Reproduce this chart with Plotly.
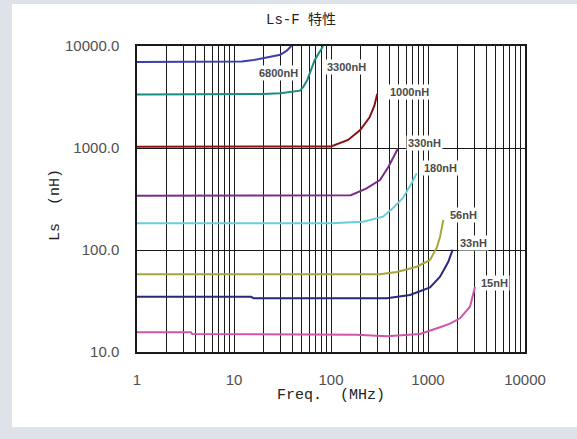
import math
import plotly.graph_objects as go

# ---- data ----
labels = ["6800nH", "3300nH", "1000nH", "330nH", "180nH", "56nH", "33nH", "15nH"]

f_6800 = [1, 5, 10, 12, 16, 20, 25, 30, 35, 39]
L_6800 = [6950, 6950, 6980, 7050, 7300, 7600, 7900, 8200, 9000, 10000]

f_3300 = [1, 5, 10, 20, 30, 40, 48, 52, 57, 68, 83]
L_3300 = [3350, 3350, 3350, 3380, 3450, 3550, 3650, 4000, 4650, 7300, 10000]

f_1000 = [1, 10, 50, 100, 150, 200, 250, 280, 300]
L_1000 = [1030, 1030, 1030, 1035, 1200, 1500, 2000, 2600, 3400]

f_330 = [1, 10, 100, 160, 230, 320, 390, 460, 490]
L_330 = [340, 340, 340, 345, 400, 485, 650, 890, 990]

f_180 = [1, 10, 100, 214, 344, 436, 552, 679, 765]
L_180 = [183, 183, 183, 189, 212, 258, 324, 454, 565]

f_56 = [1, 10, 100, 320, 476, 765, 1049, 1230, 1331, 1439]
L_56 = [58, 58, 58, 58, 61, 68.6, 80, 105, 135, 197]

f_33 = [1, 15, 16, 375, 652, 1049, 1331, 1619, 1798]
L_33 = [34.8, 34.8, 33.6, 33.6, 36.2, 43, 54.7, 76.7, 101]

f_15 = [1, 3.6, 3.7, 32, 184, 375, 827, 1331, 1686, 2138, 2710, 3052]
L_15 = [15.6, 15.6, 15.0, 15.0, 14.8, 14.3, 15.0, 17.5, 19, 21.4, 27.8, 43.6]

x_tick_labels = ["1", "10", "100", "1000", "10000"]
y_tick_labels = ["10.0", "100.0", "1000.0", "10000.0"]

# label anchor positions (data coords)
label_f = [29, 143, 650, 910, 1360, 2300, 2910, 4900]
label_L = [5430, 6220, 3540, 1120, 637, 220, 117, 47.4]

colors = ["#3b3fae", "#1b8c80", "#8a1212", "#7a2c8c", "#68cfd8", "#a6a63a", "#28287c", "#d055a6"]

series = [(f_6800, L_6800), (f_3300, L_3300), (f_1000, L_1000), (f_330, L_330),
          (f_180, L_180), (f_56, L_56), (f_33, L_33), (f_15, L_15)]

fig = go.Figure()
for (fx, ly), name, c in zip(series, labels, colors):
    fig.add_trace(go.Scatter(x=fx, y=ly, mode="lines", name=name,
                             line=dict(color=c, width=2), showlegend=False))

for name, fx, ly in zip(labels, label_f, label_L):
    fig.add_annotation(x=math.log10(fx), y=math.log10(ly),
                       text="<b>%s</b>" % name, showarrow=False, bgcolor="white",
                       xanchor="center", yanchor="middle",
                       font=dict(family="Liberation Sans, Arial", size=11, color="#4a4a4a"),
                       borderpad=1)

# x tick positions: every 1..9 multiple per decade
decades = [1, 10, 100, 1000, 10000]
xt_vals = []
for k in range(4):
    for m in range(1, 10):
        xt_vals.append(m * 10 ** k)
xt_vals.append(10000)
xt_text = [x_tick_labels[decades.index(v)] if v in decades else "" for v in xt_vals]

fig.update_xaxes(type="log", range=[0, 4], tickvals=xt_vals, ticktext=xt_text,
                 showgrid=True, gridcolor="#1a1a1a", gridwidth=1.3,
                 showline=True, linecolor="#1a1a1a", linewidth=1.5, mirror=True,
                 ticks="", zeroline=False, ticklabelstandoff=13, automargin=False,
                 tickfont=dict(family="Liberation Sans, Arial", size=15, color="#505050"))
fig.update_yaxes(type="log", range=[1, 4], tickvals=[10, 100, 1000, 10000], ticktext=y_tick_labels,
                 showgrid=True, gridcolor="#1a1a1a", gridwidth=1.3,
                 showline=True, linecolor="#1a1a1a", linewidth=1.5, mirror=True,
                 ticks="", zeroline=False, ticklabelstandoff=13, automargin=False,
                 tickfont=dict(family="Liberation Sans, Arial", size=15, color="#505050"))

# white panel on gray background
fig.add_shape(type="rect", xref="paper", yref="paper",
              x0=(12 - 137) / 388, x1=(580 - 137) / 388,
              y0=(352 - 427) / 306, y1=(352 - 4) / 306,
              fillcolor="white", line=dict(width=0), layer="below")

fig.add_annotation(xref="paper", yref="paper", x=(301 - 137) / 388, y=(352 - 20) / 306,
                   text="Ls-F 特性", showarrow=False, xanchor="center", yanchor="middle",
                   font=dict(family="Liberation Mono, Noto Sans CJK SC", size=14, color="#222222"))
fig.add_annotation(xref="paper", yref="paper", x=0.5, y=(352 - 395) / 306,
                   text="Freq.  (MHz)", showarrow=False, xanchor="center", yanchor="middle",
                   font=dict(family="Liberation Mono, Noto Sans CJK SC", size=15, color="#222222"))
fig.add_annotation(xref="paper", yref="paper", x=(56 - 137) / 388, y=(352 - 205) / 306,
                   text="Ls  (nH)", showarrow=False, textangle=-90, xanchor="center", yanchor="middle",
                   font=dict(family="Liberation Mono, Noto Sans CJK SC", size=15, color="#222222"))

fig.update_layout(width=577, height=439,
                  margin=dict(l=137, r=52, t=46, b=87, autoexpand=False),
                  paper_bgcolor="#dde3e8", plot_bgcolor="white")

fig.write_html("out.html", config={"displayModeBar": False},
               post_script="document.body.style.margin='0';")
